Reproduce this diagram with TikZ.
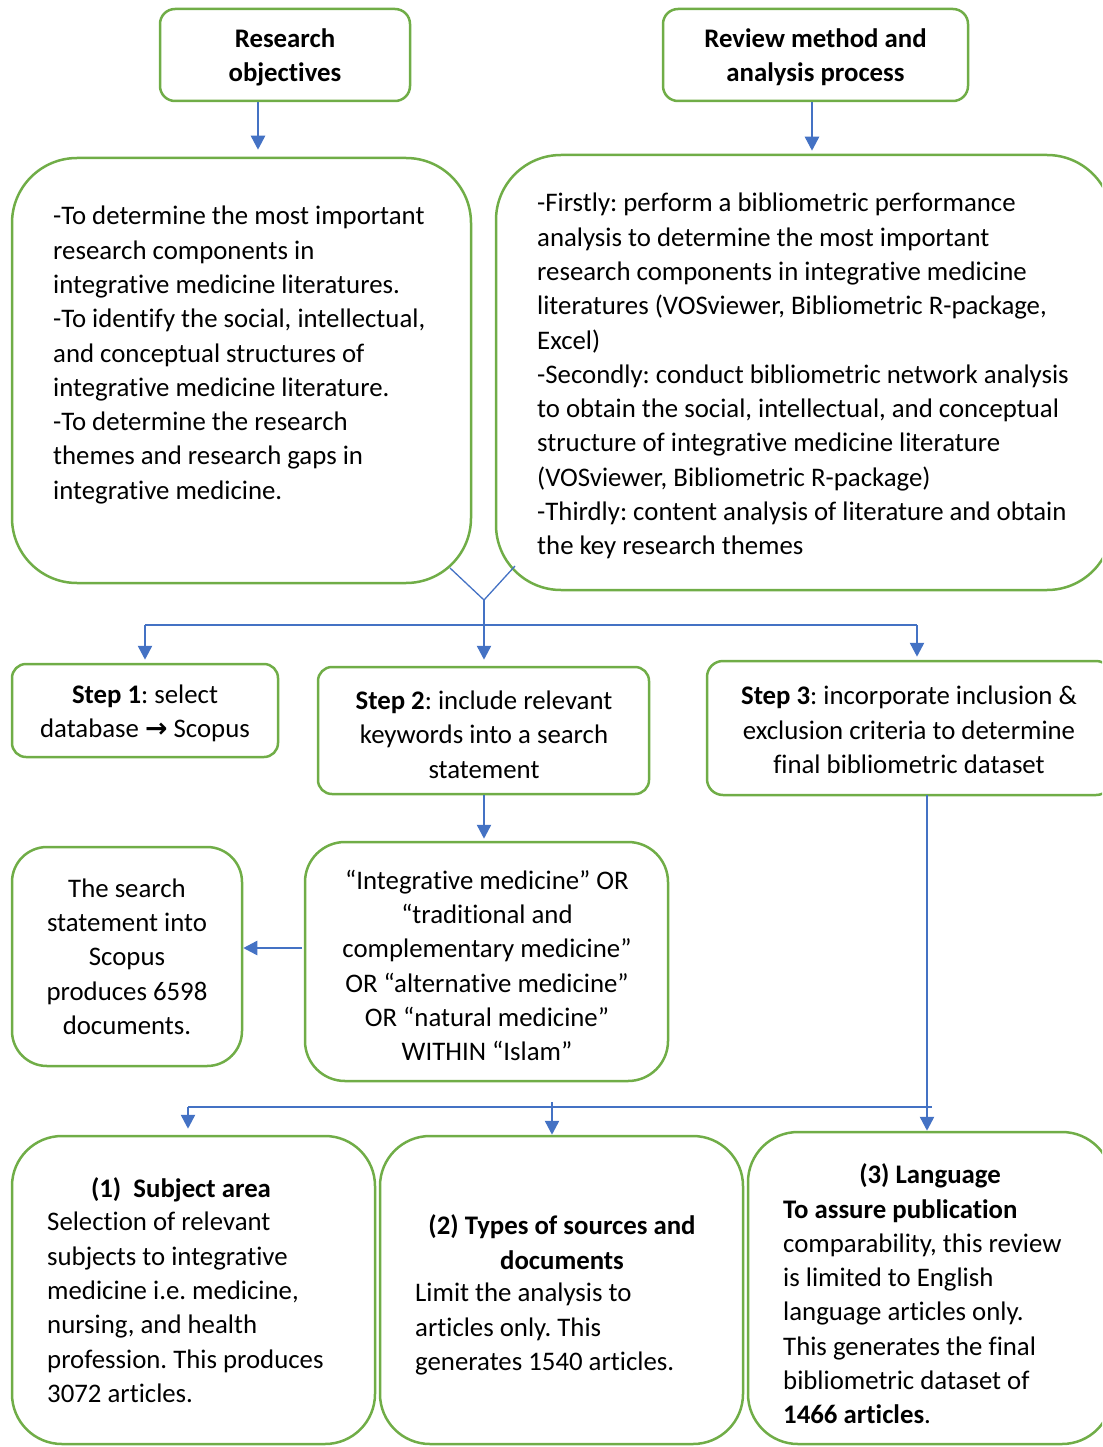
\documentclass[tikz,border=0pt]{standalone}
\usepackage{fontspec}
\setmainfont{Carlito}[Ligatures=NoCommon]
\newfontfamily\symfont{DejaVu Sans}
\usetikzlibrary{arrows.meta}
\definecolor{gborder}{HTML}{70AD47}
\definecolor{barrow}{HTML}{4472C4}
\frenchspacing
\begin{document}
\begin{tikzpicture}[x=1pt,y=-1pt,
  box/.style={draw=gborder,line width=2.5pt,inner sep=0pt},
  conn/.style={draw=barrow,line width=2.5pt,-{Triangle[length=14pt,width=14pt]}},
  hline/.style={draw=barrow,line width=1.7pt},
  vline/.style={draw=barrow,line width=1.3pt},
  txt/.style={inner sep=0pt,font=\fontsize{26.8}{34.3}\selectfont},
  btxt/.style={txt,font=\fontsize{26.8}{34.3}\selectfont\bfseries},
]
\useasboundingbox (0,0) rectangle (1102,1447);
\clip (0,0) rectangle (1102,1447);

% boxes
\node[box,rounded corners=15pt,minimum width=250pt,minimum height=92pt] (ro) at (285,55) {};
\node[box,rounded corners=15pt,minimum width=305pt,minimum height=92pt] (rm) at (815.5,55) {};
\node[box,rounded corners=65pt,minimum width=459pt,minimum height=425pt] (ob) at (241.5,370.5) {};
\node[box,rounded corners=65pt,minimum width=616pt,minimum height=435pt] (mb) at (804,372.5) {};
\node[box,rounded corners=14pt,minimum width=266pt,minimum height=93pt] (s1) at (145,710.5) {};
\node[box,rounded corners=14pt,minimum width=331pt,minimum height=127pt] (s2) at (483.5,730.5) {};
\node[box,rounded corners=16pt,minimum width=405pt,minimum height=134pt] (s3) at (909.5,728) {};
\node[box,rounded corners=40pt,minimum width=363pt,minimum height=239pt] (sq) at (486.5,961.5) {};
\node[box,rounded corners=35pt,minimum width=230pt,minimum height=219pt] (rs) at (127,956.5) {};
\node[box,rounded corners=50pt,minimum width=363pt,minimum height=308pt] (b1) at (193.5,1290) {};
\node[box,rounded corners=50pt,minimum width=363pt,minimum height=308pt] (b2) at (561.5,1290) {};
\node[box,rounded corners=50pt,minimum width=364pt,minimum height=312pt] (b3) at (930,1288) {};

% texts
\node[btxt,align=center] (t-ro) at (285,57.5) {Research\\objectives};
\node[btxt,align=center] (t-rm) at (815.5,57.5) {Review method and\\analysis process};
\node[txt,align=left,anchor=north west] (t-ob) at (53,206) {-To determine the most important\\research components in\\integrative medicine literatures.\\-To identify the social, intellectual,\\and conceptual structures of\\integrative medicine literature.\\-To determine the research\\themes and research gaps in\\integrative medicine.};
\node[txt,align=left,anchor=north west] (t-mb) at (537,193) {-Firstly: perform a bibliometric performance\\analysis to determine the most important\\research components in integrative medicine\\literatures (VOSviewer, Bibliometric R-package,\\Excel)\\-Secondly: conduct bibliometric network analysis\\to obtain the social, intellectual, and conceptual\\structure of integrative medicine literature\\(VOSviewer, Bibliometric R-package)\\-Thirdly: content analysis of literature and obtain\\the key research themes};
\node[txt,align=center] (t-s1) at (145,713.5) {\textbf{Step 1}: select\\database {\symfont\bfseries →} Scopus};
\node[txt,align=center] (t-s2) at (484,734.5) {\textbf{Step 2}: include relevant\\keywords into a search\\statement};
\node[txt,align=center] (t-s3) at (909,730) {\textbf{Step 3}: incorporate inclusion \&\\exclusion criteria to determine\\final bibliometric dataset};
\node[txt,align=center] (t-sq) at (487,965.5) {“Integrative medicine” OR\\“traditional and\\complementary medicine”\\OR “alternative medicine”\\OR “natural medicine”\\WITHIN “Islam”};
\node[txt,align=center] (t-rs) at (127,956.5) {The search\\statement into\\Scopus\\produces 6598\\documents.};
\node[btxt] (h-b1) at (181,1189.5) {(1)\ \ Subject area};
\node[txt,align=left,anchor=north west] (t-b1) at (47,1212) {Selection of relevant\\subjects to integrative\\medicine i.e. medicine,\\nursing, and health\\profession. This produces\\3072 articles.};
\node[btxt,align=center] (h-b2) at (562,1242) {(2) Types of sources and\\documents};
\node[txt,align=left,anchor=north west] (t-b2) at (415,1283) {Limit the analysis to\\articles only. This\\generates 1540 articles.};
\node[btxt] (h-b3) at (930,1175.5) {(3) Language};
\node[txt,align=left,anchor=north west] (t-b3) at (783,1199) {\textbf{To assure publication}\\comparability, this review\\is limited to English\\language articles only.\\This generates the final\\bibliometric dataset of\\\textbf{1466 articles}.};

% connectors
\draw[conn,shorten >=7pt] ([xshift=-27pt]ro.south) -- ([xshift=-27pt]ro.south |- ob.north);
\draw[conn,shorten >=3pt] ([xshift=-3.5pt]rm.south) -- ([xshift=-3.5pt]rm.south |- mb.north);

\coordinate (vl) at (450,568);
\coordinate (vr) at (515,566);
\coordinate (vj) at (484,600);
\coordinate (hL) at (145,625);
\coordinate (hR) at (917,625);
\draw[vline] (vl) -- (vj) -- (vr);
\draw[hline] (hL) -- (hR);
\draw[conn,shorten >=6pt] (vj) -- (vj |- s2.north);
\draw[conn,shorten >=3pt] (hL) -- (hL |- s1.north);
\draw[conn,shorten >=3pt] (hR) -- (hR |- s3.north);
\draw[conn,shorten >=2pt] ([xshift=0.5pt]s2.south) -- ([xshift=0.5pt]s2.south |- sq.north);

\coordinate (sqa) at (302,948);
\draw[conn] (sqa) -- (sqa -| rs.east);

\coordinate (c3) at (927,795);
\coordinate (c3b) at (927,1102);
\coordinate (bL) at (188,1107);
\coordinate (bM) at (552,1107);
\coordinate (bR) at (932,1107);
\draw[hline] (c3) -- (c3b);
\draw[conn] (c3b) -- (c3b |- b3.north);
\draw[hline] (bL) -- (bR);
\draw[conn,shorten >=6pt] (bL) -- (bL |- b1.north);
\draw[conn] ([yshift=5pt]bM) -- (bM |- b2.north);
\end{tikzpicture}
\end{document}
